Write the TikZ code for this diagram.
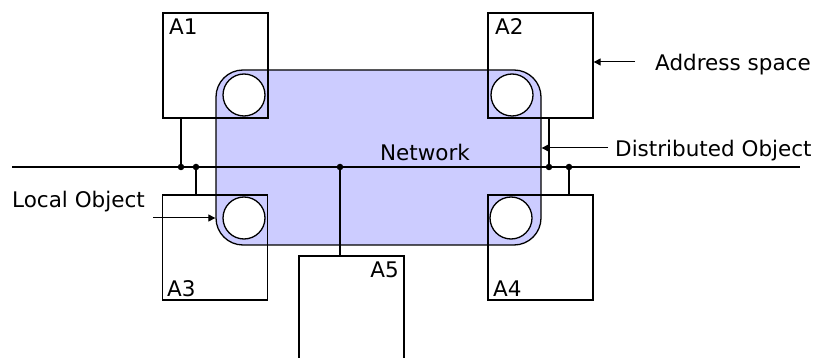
\documentclass[tikz,border=0pt]{standalone}
\usepackage{fontspec}
\setmainfont{DejaVu Sans}
\usetikzlibrary{arrows.meta,calc}
\definecolor{netfill}{HTML}{CCCCFF}
\tikzset{
  net/.style={draw=black, fill=netfill, line width=1.3pt, rounded corners=27pt, minimum width=325pt, minimum height=175pt, inner sep=0pt},
  abox/.style={draw=black, line width=1.3pt, minimum width=105pt, minimum height=105pt, inner sep=0pt},
  circ/.style={circle, draw=black, fill=white, line width=1.3pt, minimum size=42pt, inner sep=0pt},
  bus/.style={line width=2.6pt},
  wire/.style={line width=1.3pt},
  ptr/.style={line width=1pt, -{Triangle[length=7pt,width=7pt]}},
  txt/.style={font=\fontsize{21.5}{25}\selectfont, inner sep=0pt, anchor=base west},
  dot/.style={circle, fill=black, inner sep=0pt, minimum size=6.5pt}
}
\begin{document}
\begin{tikzpicture}[x=1pt,y=-1pt]
\useasboundingbox (0,0) rectangle (814,358);
% network
\node[net] (net) at (378.5,157.5) {};
% circles
\node[circ] (c1) at (244,95) {};
\node[circ] (c2) at (512,95) {};
\node[circ] (c3) at (244,218) {};
\node[circ] (c4) at (511,218) {};
% address spaces
\node[abox] (a1) at (215.5,65.5) {};
\node[abox] (a2) at (540.5,65.5) {};
\node[abox] (a3) at (215,247.5) {};
\node[abox] (a4) at (540.5,247.5) {};
\draw[line width=1.3pt] (299,380) -- (299,256) -- (404,256) -- (404,380);
\coordinate (a5top) at (340,256);
% labels
\node[txt] (l1) at (169,35) {A1};
\node[txt] (l2) at (495,35) {A2};
\node[txt] (l3) at (167,296) {A3};
\node[txt] (l4) at (493,296) {A4};
\node[txt, anchor=base east] (l5) at (399,277) {A5};
\node[txt, anchor=base] (lnet) at (425,161) {Network};
% bus
\coordinate (busl) at (12,167);
\coordinate (busr) at (800,167);
\draw[bus] (busl) -- (busr);
\coordinate (j1) at (181,167);
\coordinate (j3) at (196,167);
\coordinate (j5) at (340,167);
\coordinate (j2) at (549,167);
\coordinate (j4) at (569,167);
\draw[wire] (j1) -- (j1 |- a1.south);
\draw[wire] (j3) -- (j3 |- a3.north);
\draw[wire] (j5) -- (a5top);
\draw[wire] (j2) -- (j2 |- a2.south);
\draw[wire] (j4) -- (j4 |- a4.north);
\foreach \j in {j1,j3,j5,j2,j4} \node[dot] at (\j) {};
% annotations
\node[txt] (tas) at (655,71) {Address space};
\node[txt] (tdo) at (615,157) {Distributed Object};
\node[txt] (tlo) at (12,208) {Local Object};
\coordinate (pas) at (635,62);
\coordinate (pdo) at (608,148);
\coordinate (plo) at (153,218);
\draw[ptr] (pas) -- (pas -| a2.east);
\draw[ptr] (pdo) -- (pdo -| net.east);
\draw[ptr] (plo) -- (plo -| net.west);
\end{tikzpicture}
\end{document}
